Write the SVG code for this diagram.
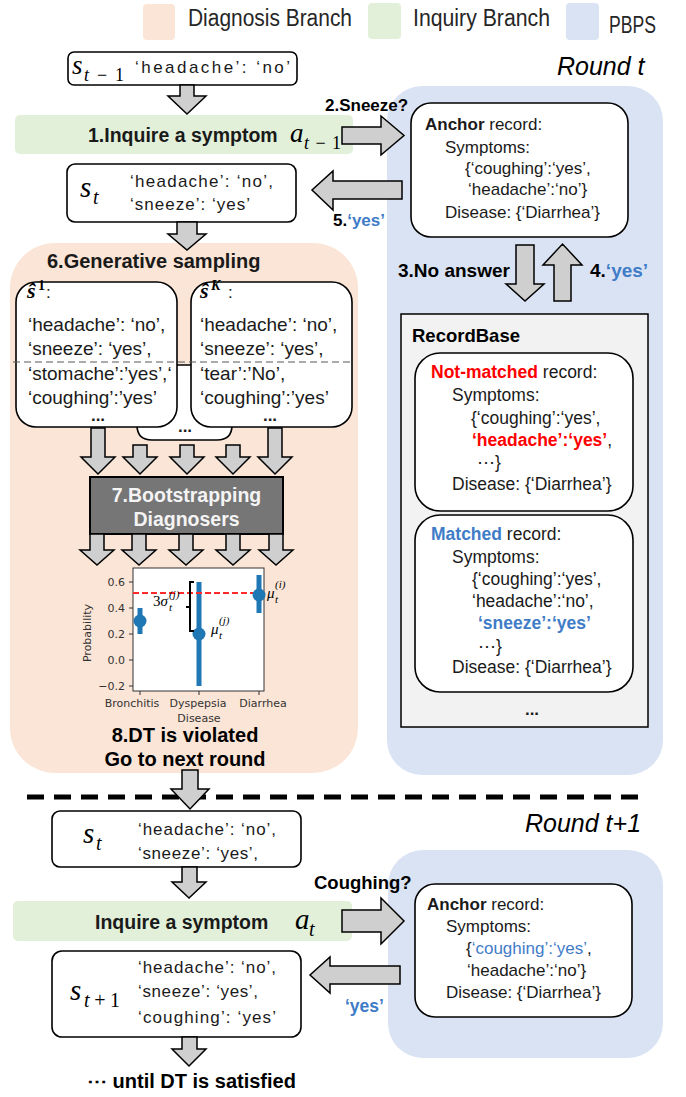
<svg xmlns="http://www.w3.org/2000/svg" width="686" height="1097" viewBox="0 0 686 1097">
  <style>
    .tx{font-family:"Liberation Sans",Arial,sans-serif;fill:#1a1a1a}
    .b{font-weight:bold}
    .mt{font-family:"Liberation Serif","DejaVu Serif",serif;font-style:italic;fill:#000}
    .up{font-style:normal}
    .box{fill:#fff;stroke:#000;stroke-width:1.6}
    .arw{fill:#cfcfcf;stroke:#000;stroke-width:1.5;stroke-linejoin:miter}
    .blue{fill:#3f7cc8}
    .red{fill:#ff0000}
    .pl{font-family:"DejaVu Sans",sans-serif;font-size:11px;fill:#333}
    .lg{font-family:"Liberation Sans",Arial,sans-serif;font-size:23px;fill:#262626}
  </style>

  <!-- legend -->
  <g id="legend">
    <rect x="143" y="4" width="32" height="36" rx="4" fill="#fbe5d6"/>
    <text class="lg" x="188" y="26" textLength="164" lengthAdjust="spacingAndGlyphs">Diagnosis Branch</text>
    <rect x="368" y="3" width="33" height="36" rx="4" fill="#e2f0d9"/>
    <text class="lg" x="413" y="26" textLength="137" lengthAdjust="spacingAndGlyphs">Inquiry Branch</text>
    <rect x="566" y="3" width="33" height="37" rx="4" fill="#dae3f3"/>
    <text class="lg" x="609" y="33" textLength="47" lengthAdjust="spacingAndGlyphs">PBPS</text>
  </g>

  <!-- background panels -->
  <g id="diagnosis-panel">
    <rect x="10" y="243" width="348" height="530" rx="45" fill="#fbe5d6"/>
  </g>
  <g id="pbps-panel-t">
    <rect x="387" y="86" width="276" height="689" rx="35" fill="#dae3f3"/>
  </g>
  <g id="pbps-panel-t1">
    <rect x="388" y="850" width="275" height="208" rx="35" fill="#dae3f3"/>
  </g>

  <!-- round labels -->
  <g id="round-labels">
    <text class="tx" x="557" y="75" font-size="25" font-style="italic" style="fill:#000">Round t</text>
    <text class="tx" x="525" y="832" font-size="25" font-style="italic" style="fill:#000">Round t+1</text>
  </g>

  <!-- round t : states and inquiry -->
  <g id="state-t-1">
    <rect class="box" x="68" y="52" width="229" height="33" rx="6"/>
    <text class="mt" x="72" y="74" font-size="27">s</text>
    <text class="mt" x="84" y="81" font-size="18" textLength="40" lengthAdjust="spacing">t<tspan class="up">−1</tspan></text>
    <text class="tx" x="135" y="73" font-size="17" textLength="155" lengthAdjust="spacing">‘headache’: ‘no’</text>
  </g>

  <g id="inquire-t">
    <rect x="15" y="115" width="338" height="39" rx="5" fill="#e2f0d9"/>
    <text class="tx b" x="88" y="142" font-size="19.5">1.Inquire a symptom</text>
    <text class="mt" x="290" y="142" font-size="27">a</text>
    <text class="mt" x="304" y="149" font-size="18" textLength="37" lengthAdjust="spacing">t<tspan class="up">−1</tspan></text>
  </g>

  <g id="state-t">
    <rect class="box" x="67" y="164" width="229" height="58" rx="8"/>
    <text class="mt" x="80" y="197" font-size="29">s</text>
    <text class="mt" x="93" y="204" font-size="20">t</text>
    <text class="tx" x="130" y="187" font-size="17" textLength="143" lengthAdjust="spacing">‘headache’: ‘no’,</text>
    <text class="tx" x="130" y="210" font-size="17" textLength="120" lengthAdjust="spacing">‘sneeze’: ‘yes’</text>
  </g>

  <!-- generative sampling -->
  <g id="generative-sampling">
    <text class="tx b" x="47" y="268" font-size="20">6.Generative sampling</text>
    <path d="M137,365 H232 V425 Q232,440 217,440 H152 Q137,440 137,425 Z" class="box"/>
    <text class="tx b" x="185" y="432" font-size="17" text-anchor="middle">...</text>
  </g>

  <g id="sample-1">
    <rect class="box" x="16" y="282" width="161" height="145" rx="20"/>
    <text class="mt b" x="27" y="298" font-size="22">ŝ</text>
    <text class="mt b up" x="38" y="290" font-size="14">1</text>
    <text class="tx" x="46" y="298" font-size="17">:</text>
    <text class="tx" x="28" y="331" font-size="19">‘headache’: ‘no’,</text>
    <text class="tx" x="28" y="355" font-size="19">‘sneeze’: ‘yes’,</text>
    <text class="tx" x="28" y="380" font-size="19">‘stomache’:’yes’,‘</text>
    <text class="tx" x="28" y="404" font-size="19">‘coughing’:’yes’</text>
    <text class="tx b" x="98" y="421" font-size="17" text-anchor="middle">...</text>
  </g>

  <g id="sample-k">
    <rect class="box" x="191" y="282" width="161" height="145" rx="20"/>
    <text class="mt b" x="200" y="298" font-size="22">ŝ</text>
    <text class="mt b" x="211" y="290" font-size="14">K</text>
    <text class="tx" x="228" y="298" font-size="17">:</text>
    <text class="tx" x="200" y="331" font-size="19">‘headache’: ‘no’,</text>
    <text class="tx" x="200" y="355" font-size="19">‘sneeze’: ‘yes’,</text>
    <text class="tx" x="200" y="380" font-size="19">‘tear’:’No’,</text>
    <text class="tx" x="200" y="404" font-size="19">‘coughing’:’yes’</text>
    <text class="tx b" x="270" y="421" font-size="17" text-anchor="middle">...</text>
  </g>

  <!-- split between observed and sampled symptoms -->
  <line x1="13" y1="362" x2="353" y2="362" stroke="#595959" stroke-width="1.2" stroke-dasharray="7 4"/>

  <g id="bootstrapping">
    <rect x="90" y="477" width="193" height="57" fill="#767676" stroke="#000" stroke-width="2"/>
    <text class="tx b" x="186.5" y="502" font-size="19.5" text-anchor="middle" style="fill:#f4f4f4">7.Bootstrapping</text>
    <text class="tx b" x="186.5" y="526" font-size="19.5" text-anchor="middle" style="fill:#f4f4f4">Diagnosers</text>
  </g>

  <!-- probability chart -->
  <g id="chart">
    <rect x="133" y="568" width="131" height="123" fill="#fff" stroke="#333" stroke-width="1"/>
    <g stroke="#333" stroke-width="1">
      <line x1="129" y1="582" x2="133" y2="582"/>
      <line x1="129" y1="608" x2="133" y2="608"/>
      <line x1="129" y1="634" x2="133" y2="634"/>
      <line x1="129" y1="660" x2="133" y2="660"/>
      <line x1="129" y1="686" x2="133" y2="686"/>
      <line x1="140" y1="691" x2="140" y2="695"/>
      <line x1="199" y1="691" x2="199" y2="695"/>
      <line x1="259" y1="691" x2="259" y2="695"/>
    </g>
    <g class="pl" text-anchor="end">
      <text x="125" y="586">0.6</text>
      <text x="125" y="612">0.4</text>
      <text x="125" y="638">0.2</text>
      <text x="125" y="664">0.0</text>
      <text x="125" y="690">−0.2</text>
    </g>
    <g class="pl" text-anchor="middle">
      <text x="132" y="707">Bronchitis</text>
      <text x="198" y="707">Dyspepsia</text>
      <text x="263" y="707">Diarrhea</text>
      <text x="199" y="722">Disease</text>
      <text transform="translate(91,633) rotate(-90)">Probability</text>
    </g>
    <g stroke="#1f77b4" stroke-width="5">
      <line x1="140" y1="608" x2="140" y2="634"/>
      <line x1="199" y1="582" x2="199" y2="686"/>
      <line x1="259" y1="575" x2="259" y2="613"/>
    </g>
    <line x1="133" y1="593" x2="258" y2="593" stroke="#ff2b2b" stroke-width="2" stroke-dasharray="6 3"/>
    <g fill="#1f77b4">
      <circle cx="140" cy="621" r="6.5"/>
      <circle cx="199" cy="634" r="6.5"/>
      <circle cx="259" cy="595" r="6.5"/>
    </g>
    <path d="M194,582 H190 V631 H194 M190,607 H186" fill="none" stroke="#000" stroke-width="2"/>
    <text class="mt" x="153" y="606" font-size="15"><tspan class="up">3</tspan>σ</text>
    <text class="mt" x="169" y="598" font-size="11">(j)</text>
    <text class="mt" x="169" y="611" font-size="11">t</text>
    <text class="mt" x="211" y="634" font-size="15">μ</text>
    <text class="mt" x="219" y="624" font-size="11">(j)</text>
    <text class="mt" x="219" y="639" font-size="11">t</text>
    <text class="mt" x="267" y="598" font-size="15">μ</text>
    <text class="mt" x="275" y="588" font-size="11">(i)</text>
    <text class="mt" x="275" y="603" font-size="11">t</text>
  </g>

  <g id="decision-test">
    <text class="tx b" x="185" y="742" font-size="20" text-anchor="middle" style="fill:#000">8.DT is violated</text>
    <text class="tx b" x="185" y="766" font-size="20" text-anchor="middle" style="fill:#000">Go to next round</text>
  </g>

  <!-- PBPS, round t -->
  <g id="anchor-t">
    <rect class="box" x="411" y="103" width="217" height="134" rx="20"/>
    <text class="tx" x="425" y="130" font-size="17"><tspan class="b">Anchor</tspan> record:</text>
    <text class="tx" x="445" y="153" font-size="17">Symptoms:</text>
    <text class="tx" x="465" y="174" font-size="17">{‘coughing’:‘yes’,</text>
    <text class="tx" x="468" y="195" font-size="17">‘headache’:‘no’}</text>
    <text class="tx" x="445" y="218" font-size="17">Disease: {‘Diarrhea’}</text>
  </g>

  <g id="recordbase">
    <rect x="401" y="314" width="247" height="413" fill="#f2f2f2" stroke="#000" stroke-width="1.5"/>
    <text class="tx b" x="412" y="342" font-size="18.5" style="fill:#000">RecordBase</text>
    <text class="tx b" x="532" y="715" font-size="17" text-anchor="middle">...</text>
  </g>

  <g id="record-not-matched">
    <rect class="box" x="415" y="353" width="218" height="158" rx="25"/>
    <text class="tx" x="431" y="378" font-size="17.5"><tspan class="b red">Not-matched</tspan> record:</text>
    <text class="tx" x="452" y="401" font-size="17.5">Symptoms:</text>
    <text class="tx" x="471" y="424" font-size="17.5">{‘coughing’:‘yes’,</text>
    <text class="tx" x="472" y="446" font-size="17.5"><tspan class="b red">‘headache’:‘yes’</tspan>,</text>
    <text class="tx" x="477" y="468" font-size="17.5">⋯}</text>
    <text class="tx" x="452" y="490" font-size="17.5">Disease: {‘Diarrhea’}</text>
  </g>

  <g id="record-matched">
    <rect class="box" x="415" y="515" width="218" height="177" rx="25"/>
    <text class="tx" x="431" y="540" font-size="17.5"><tspan class="b blue">Matched</tspan> record:</text>
    <text class="tx" x="452" y="563" font-size="17.5">Symptoms:</text>
    <text class="tx" x="472" y="585" font-size="17.5">{‘coughing’:‘yes’,</text>
    <text class="tx" x="472" y="607" font-size="17.5">‘headache’:‘no’,</text>
    <text class="tx b blue" x="478" y="629" font-size="17.5">‘sneeze’:‘yes’</text>
    <text class="tx" x="478" y="652" font-size="17.5">⋯}</text>
    <text class="tx" x="452" y="673" font-size="17.5">Disease: {‘Diarrhea’}</text>
  </g>

  <!-- round separator -->
  <line x1="27" y1="797" x2="638" y2="797" stroke="#000" stroke-width="5" stroke-dasharray="17 10"/>

  <!-- round t+1 -->
  <g id="state-t-next">
    <rect class="box" x="52" y="811" width="249" height="56" rx="8"/>
    <text class="mt" x="83" y="843" font-size="29">s</text>
    <text class="mt" x="96" y="850" font-size="20">t</text>
    <text class="tx" x="138" y="835" font-size="17" textLength="138" lengthAdjust="spacing">‘headache’: ‘no’,</text>
    <text class="tx" x="138" y="859" font-size="17" textLength="120" lengthAdjust="spacing">‘sneeze’: ‘yes’,</text>
  </g>

  <g id="inquire-t-next">
    <rect x="13" y="901" width="339" height="40" rx="5" fill="#e2f0d9"/>
    <text class="tx b" x="95" y="929" font-size="19.5">Inquire a symptom</text>
    <text class="mt" x="295" y="929" font-size="29">a</text>
    <text class="mt" x="309" y="936" font-size="20">t</text>
  </g>

  <g id="state-t1">
    <rect class="box" x="52" y="951" width="249" height="86" rx="10"/>
    <text class="mt" x="70" y="1000" font-size="29">s</text>
    <text class="mt" x="84" y="1007" font-size="20" textLength="36" lengthAdjust="spacing">t<tspan class="up">+1</tspan></text>
    <text class="tx" x="138" y="973" font-size="17" textLength="138" lengthAdjust="spacing">‘headache’: ‘no’,</text>
    <text class="tx" x="138" y="997" font-size="17" textLength="120" lengthAdjust="spacing">‘sneeze’: ‘yes’,</text>
    <text class="tx" x="138" y="1023" font-size="17" textLength="138" lengthAdjust="spacing">‘coughing’: ‘yes’</text>
  </g>

  <g id="anchor-t-next">
    <rect class="box" x="415" y="884" width="217" height="133" rx="20"/>
    <text class="tx" x="427" y="910" font-size="17"><tspan class="b">Anchor</tspan> record:</text>
    <text class="tx" x="446" y="932" font-size="17">Symptoms:</text>
    <text class="tx" x="466" y="954" font-size="17">{<tspan class="blue">‘coughing’:‘yes’</tspan>,</text>
    <text class="tx" x="467" y="976" font-size="17">‘headache’:‘no’}</text>
    <text class="tx" x="446" y="998" font-size="17">Disease: {‘Diarrhea’}</text>
  </g>

  <g id="final-note">
    <text class="tx b" x="87" y="1088" font-size="20" style="fill:#000">⋯ until DT is satisfied</text>
  </g>

  <!-- block-arrow connectors and their labels -->
  <g id="connectors">
    <path class="arw" d="M180,85 H194 V96 H206 L187,114 L168,96 H180 Z"/>
    <path class="arw" d="M177,222 H197 V234 H206 L187,250 L168,234 H177 Z"/>

    <path class="arw" d="M91,428 H105 V457 H115 L98,474 L81,457 H91 Z"/>
    <path class="arw" d="M133,445 H147 V457 H157 L140,474 L123,457 H133 Z"/>
    <path class="arw" d="M180,445 H194 V457 H204 L187,474 L170,457 H180 Z"/>
    <path class="arw" d="M226,445 H240 V457 H250 L233,474 L216,457 H226 Z"/>
    <path class="arw" d="M268,428 H282 V457 H292 L275,474 L258,457 H268 Z"/>

    <path class="arw" d="M90,534 H104 V550 H114 L97,565 L80,550 H90 Z"/>
    <path class="arw" d="M132,534 H146 V550 H156 L139,565 L122,550 H132 Z"/>
    <path class="arw" d="M179,534 H193 V550 H203 L186,565 L169,550 H179 Z"/>
    <path class="arw" d="M226,534 H240 V550 H250 L233,565 L216,550 H226 Z"/>
    <path class="arw" d="M269,534 H283 V550 H293 L276,565 L259,550 H269 Z"/>

    <path class="arw" d="M342,127 H381 V116 L404,135.5 L381,155 V144 H342 Z"/>
    <text class="tx b" x="325" y="111" font-size="17" style="fill:#000">2.Sneeze?</text>

    <path class="arw" d="M402,181 V199 H333 V210 L312,190 L333,171 V181 Z"/>
    <text class="tx b" x="333" y="226" font-size="17" style="fill:#000">5.<tspan class="blue">‘yes’</tspan></text>

    <path class="arw" d="M516,245 H534 V284 H544 L525,301 L506,284 H516 Z"/>
    <text class="tx b" x="398" y="277" font-size="19" style="fill:#000">3.No answer</text>
    <path class="arw" d="M554,301 V265 H543 L562.5,244 L582,265 H571 V301 Z"/>
    <text class="tx b" x="590" y="277" font-size="19" style="fill:#000">4.<tspan class="blue">‘yes’</tspan></text>

    <path class="arw" d="M182,770 H198 V789 H209 L190,809 L171,789 H182 Z"/>
    <path class="arw" d="M182,867 H197 V882 H206 L189,898 L172,882 H182 Z"/>
    <path class="arw" d="M182,1037 H197 V1049 H206 L189,1066 L172,1049 H182 Z"/>

    <path class="arw" d="M342,910 H381 V898 L404,921 L381,944 V932 H342 Z"/>
    <text class="tx b" x="314" y="889" font-size="18.5" style="fill:#000">Coughing?</text>
    <path class="arw" d="M400,966 V984 H330 V993 L310,975 L330,957 V966 Z"/>
    <text class="tx b blue" x="345" y="1012" font-size="17.5">‘yes’</text>
  </g>
</svg>
